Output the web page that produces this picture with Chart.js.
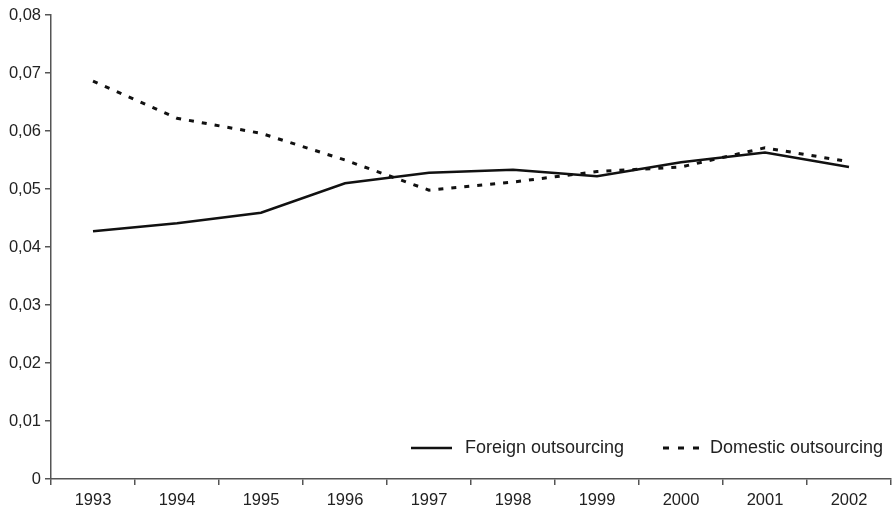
<!DOCTYPE html>
<html><head><meta charset="utf-8">
<script src="https://cdn.jsdelivr.net/npm/chart.js@4"></script>
<style>html,body{margin:0;padding:0;background:#fff}#wrap{width:893px;height:509px}</style>
</head><body><div id="wrap"><canvas id="c"></canvas></div>
<script>
const years = ['1993','1994','1995','1996','1997','1998','1999','2000','2001','2002'];
const foreign = [0.0427,0.0441,0.0459,0.0510,0.0528,0.0533,0.0522,0.0546,0.0563,0.0538];
const domestic = [0.0686,0.0622,0.0596,0.0550,0.0498,0.0512,0.0530,0.0538,0.0571,0.0547];
const seriesNames = ['Foreign outsourcing','Domestic outsourcing'];
const yTicks = [0,0.01,0.02,0.03,0.04,0.05,0.06,0.07,0.08];
const FONT = '"Liberation Sans", Arial, sans-serif';

const legendPlugin = {
  id:'insideLegend',
  afterDraw(chart){
    const ctx = chart.ctx, a = chart.chartArea;
    const y = a.bottom - 31;
    ctx.save();
    ctx.font = '18px ' + FONT;
    ctx.fillStyle = '#222';
    ctx.textBaseline = 'middle';
    ctx.strokeStyle = '#111';
    ctx.lineWidth = 2.5;
    ctx.beginPath(); ctx.moveTo(a.left+360, y); ctx.lineTo(a.left+401, y); ctx.stroke();
    ctx.fillText(seriesNames[0], a.left+414, y);
    ctx.lineWidth = 3;
    ctx.setLineDash([6,9]);
    ctx.beginPath(); ctx.moveTo(a.left+612, y); ctx.lineTo(a.left+648, y); ctx.stroke();
    ctx.setLineDash([]);
    ctx.fillText(seriesNames[1], a.left+659, y);
    ctx.restore();
  }
};

new Chart(document.getElementById('c'), {
  type:'line',
  data:{ labels: years, datasets:[
    {label:seriesNames[0], data:foreign, borderColor:'#111', borderWidth:2.5, pointRadius:0, tension:0, fill:false},
    {label:seriesNames[1], data:domestic, borderColor:'#111', borderWidth:3, borderDash:[5,8], pointRadius:0, tension:0, fill:false}
  ]},
  options:{
    responsive:true, maintainAspectRatio:false, animation:false,
    layout:{padding:{top:15,right:2,left:0,bottom:0}},
    plugins:{legend:{display:false}, tooltip:{enabled:false}},
    scales:{
      x:{
        offset:true,
        grid:{display:true, offset:true, drawOnChartArea:false, tickLength:6, color:'#555', lineWidth:1.5},
        border:{display:true, color:'#555', width:1.5},
        ticks:{color:'#222', font:{family:FONT, size:16.5}, padding:6, maxRotation:0},
        afterFit(s){ s.height = 30; }
      },
      y:{
        min:0, max:0.08,
        afterBuildTicks(s){ s.ticks = yTicks.map(v=>({value:v})); },
        grid:{display:true, drawOnChartArea:false, tickLength:6, color:'#555', lineWidth:1.5},
        border:{display:true, color:'#555', width:1.5},
        ticks:{color:'#222', font:{family:FONT, size:16.5}, padding:4,
          callback:v=> v===0 ? '0' : v.toFixed(2).replace('.',',')},
        afterFit(s){ s.width = 51; }
      }
    }
  },
  plugins:[legendPlugin]
});
</script></body></html>
